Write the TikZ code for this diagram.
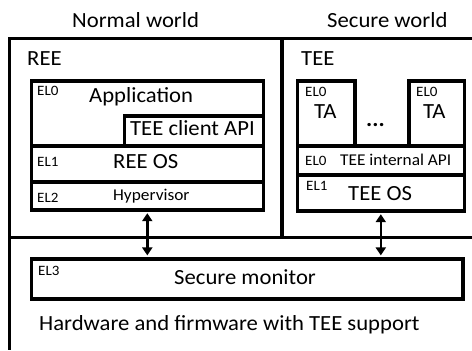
\documentclass[tikz,border=0pt]{standalone}
\usepackage{fontspec}
\setmainfont{Carlito}[FakeStretch=1.05]
\usetikzlibrary{arrows.meta}
\begin{document}
\begin{tikzpicture}[x=1bp,y=-1bp,
  frame/.style={line width=3.8bp},
  box/.style={draw, line width=3.6bp, inner sep=0, anchor=north west},
  txt/.style={inner sep=0, anchor=base west},
  big/.style={txt, font=\fontsize{21.6bp}{26bp}\selectfont},
  mid/.style={txt, font=\fontsize{16.5bp}{20bp}\selectfont},
  el/.style={txt, font=\fontsize{14.3bp}{17bp}\selectfont},
  dbl/.style={line width=2.6bp, {Triangle[length=8bp,width=10bp]}-{Triangle[length=8bp,width=10bp]}, shorten >=1.6bp, shorten <=1.6bp}]
\useasboundingbox (0,0) rectangle (472,350);
% outer frames
\coordinate (tr) at (472,38.5);
\coordinate (tl) at (9.5,38.5);
\coordinate (bl) at (9.5,350);
\coordinate (ml) at (9.5,237.5);
\coordinate (mr) at (472,237.5);
\coordinate (dt) at (282,38.5);
\coordinate (db) at (282,237.5);
\draw[frame] (tr) -- (tl) -- (bl);
\draw[frame] (ml) -- (mr);
\draw[frame] (dt) -- (db);
% REE boxes
\node[box, minimum width=232bp, minimum height=65bp] (app) at (29.5,79) {};
\node[box, minimum width=139bp, minimum height=30bp] (tcapi) at (122.5,114) {};
\node[box, minimum width=232bp, minimum height=36bp] (reeos) at (29.5,144) {};
\node[box, minimum width=232bp, minimum height=28bp] (hyp) at (29.5,180) {};
% TEE boxes
\node[box, minimum width=57.5bp, minimum height=65bp] (ta1) at (295.5,79) {};
\node[box, minimum width=55.5bp, minimum height=65bp] (ta2) at (407,79) {};
\node[box, minimum width=167bp, minimum height=29bp] (tiapi) at (295.5,144) {};
\node[box, minimum width=167bp, minimum height=36bp] (teeos) at (295.5,173) {};
% secure monitor
\node[box, minimum width=431.5bp, minimum height=40bp] (mon) at (29.5,257) {};
% arrows
\draw[dbl] (hyp.south) -- (hyp.south |- mon.north);
\draw[dbl] (teeos.south) -- (teeos.south |- mon.north);
% texts
\node[big] (nw) at (72,27) {Normal world};
\node[big] (sw) at (327,27) {Secure world};
\node[big] (ree) at (27,65) {REE};
\node[big] (tee) at (301,65) {TEE};
\node[el] (el0a) at (37,95) {EL0};
\node[big] (appt) at (89,102) {Application};
\node[big] (tcapit) at (130,135) {TEE client API};
\node[el] (el1a) at (37,166) {EL1};
\node[big] (reeost) at (113,168) {REE OS};
\node[el] (el2) at (37,202) {EL2};
\node[mid] (hypt) at (113,200) {Hypervisor};
\node[el] (el0b) at (305,96) {EL0};
\node[big] (ta1t) at (314,118) {TA};
\node[el] (el0c) at (416,96) {EL0};
\node[big] (ta2t) at (423,118) {TA};
\node[txt, font=\fontsize{22bp}{26bp}\selectfont\bfseries] (dots) at (366,126) {...};
\node[el] (el0d) at (305,165) {EL0};
\node[mid] (tiapit) at (340,165) {TEE internal API};
\node[el] (el1b) at (306,190) {EL1};
\node[big] (teeost) at (348,200) {TEE OS};
\node[el] (el3) at (38,275) {EL3};
\node[big] (mont) at (174,284) {Secure monitor};
\node[big] (hw) at (39,330) {Hardware and firmware with TEE support};
\end{tikzpicture}
\end{document}
